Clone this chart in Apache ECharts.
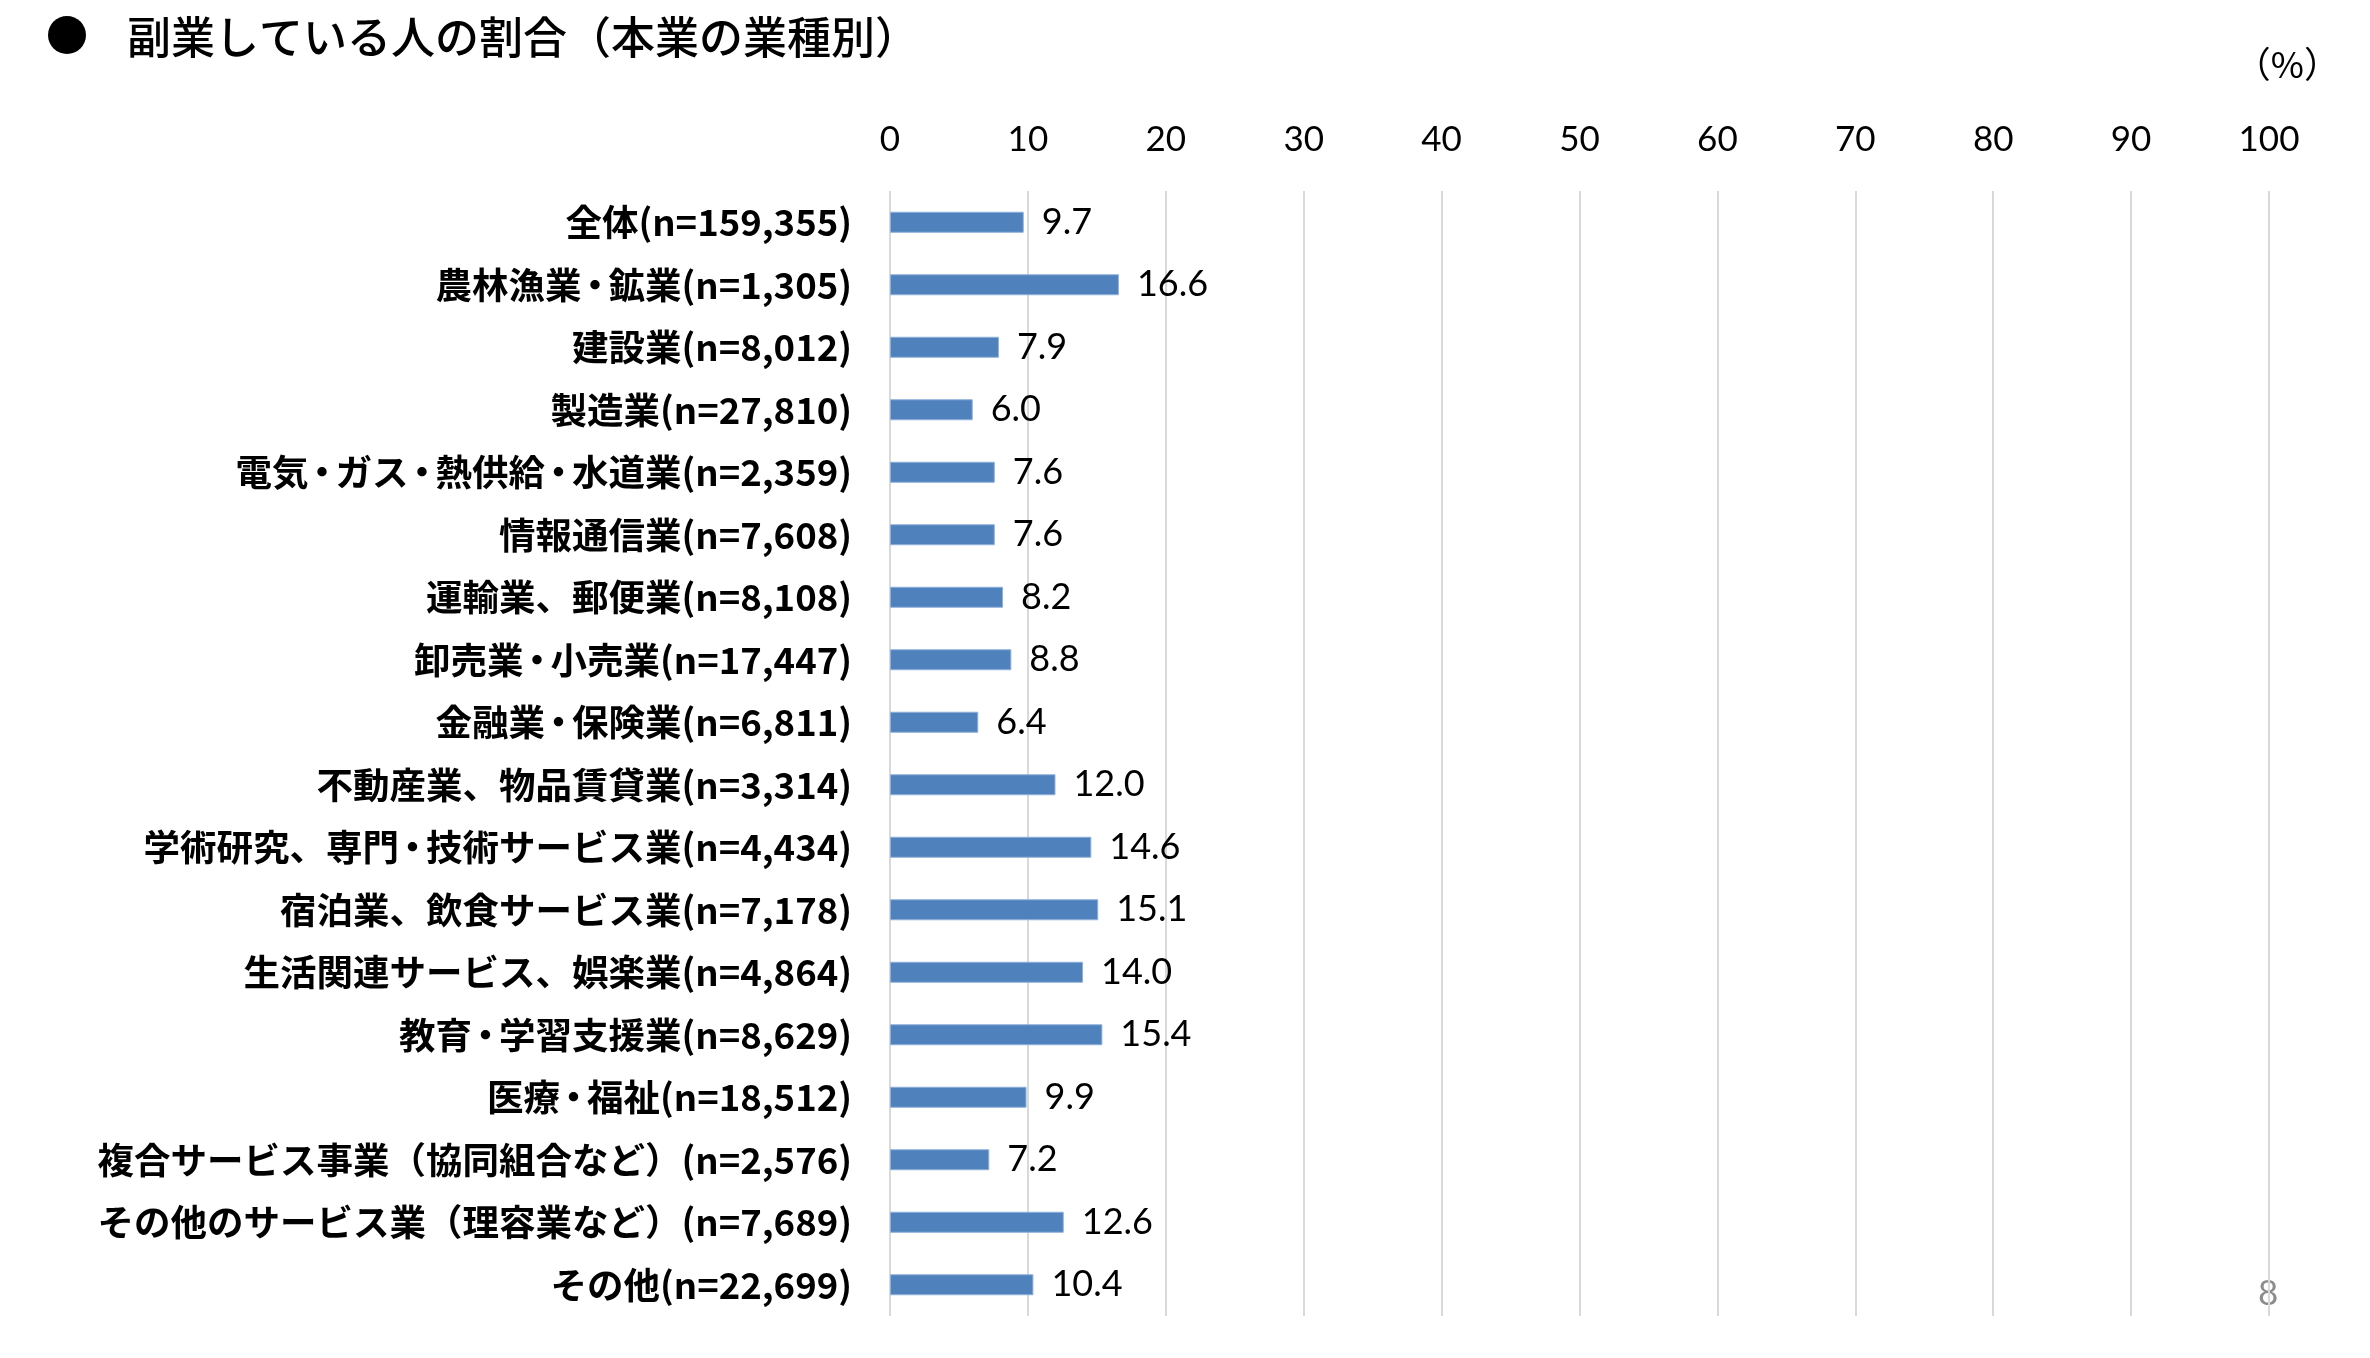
<!DOCTYPE html>
<html><head><meta charset="utf-8">
<script src="https://cdn.jsdelivr.net/npm/echarts@6/dist/echarts.min.js"></script>
<style>html,body{margin:0;padding:0;background:#fff}#c{width:2370px;height:1358px}</style>
</head><body><div id="c"></div>
<script>
const categories = [
  '全体(n=159,355)',
  '農林漁業・鉱業(n=1,305)',
  '建設業(n=8,012)',
  '製造業(n=27,810)',
  '電気・ガス・熱供給・水道業(n=2,359)',
  '情報通信業(n=7,608)',
  '運輸業、郵便業(n=8,108)',
  '卸売業・小売業(n=17,447)',
  '金融業・保険業(n=6,811)',
  '不動産業、物品賃貸業(n=3,314)',
  '学術研究、専門・技術サービス業(n=4,434)',
  '宿泊業、飲食サービス業(n=7,178)',
  '生活関連サービス、娯楽業(n=4,864)',
  '教育・学習支援業(n=8,629)',
  '医療・福祉(n=18,512)',
  '複合サービス事業（協同組合など）(n=2,576)',
  'その他のサービス業（理容業など）(n=7,689)',
  'その他(n=22,699)'
];
const values = [9.7, 16.6, 7.9, 6.0, 7.6, 7.6, 8.2, 8.8, 6.4, 12.0, 14.6, 15.1, 14.0, 15.4, 9.9, 7.2, 12.6, 10.4];
const titleText = '副業している人の割合（本業の業種別）';
const unitText = '（%）';
const pageText = '8';

const chart = echarts.init(document.getElementById('c'), null, {renderer: 'canvas'});
const jp = '"Noto Sans CJK JP", "Noto Sans", sans-serif';
const num = 'Lato, "Noto Sans", sans-serif';
const catFont = {fontFamily: jp, fontSize: 36.5, fontWeight: 'bold', color: '#000'};
chart.setOption({
  animation: false,
  backgroundColor: '#ffffff',
  title: {
    text: titleText, left: 122, top: 10,
    textStyle: {fontFamily: jp, fontSize: 44, fontWeight: 500, color: '#000'}
  },
  graphic: [
    {type: 'circle', shape: {cx: 67, cy: 35, r: 19}, style: {fill: '#000'}},
    {type: 'text', right: 30, top: 46, style: {text: unitText, font: '36px ' + jp, fill: '#000'}},
    {type: 'text', left: 2258, top: 1276, style: {text: pageText, font: '35px ' + num, fill: '#8c8c8c'}}
  ],
  grid: {left: 890, right: 101, top: 191, bottom: 42, containLabel: false},
  xAxis: {
    type: 'value', position: 'top', min: 0, max: 100, interval: 10,
    axisLine: {show: false}, axisTick: {show: false},
    axisLabel: {fontFamily: num, fontSize: 35, color: '#000', margin: 34},
    splitLine: {show: true, lineStyle: {color: '#d9d9d9', width: 2}}
  },
  yAxis: {
    type: 'category', data: categories, inverse: true,
    axisLine: {show: false}, axisTick: {show: false},
    axisLabel: Object.assign({}, catFont, {
      margin: 38,
      formatter: v => v.split('・').map(s => '{t|' + s + '}').join('{d|・}'),
      rich: {
        t: Object.assign({}, catFont),
        d: Object.assign({}, catFont, {width: 27, align: 'center'})
      }
    })
  },
  series: [{
    type: 'bar', data: values, barWidth: 21,
    itemStyle: {color: '#4F81BD', borderColor: '#8fb0d9', borderWidth: 1},
    label: {show: true, position: 'right', distance: 18, fontFamily: num, fontSize: 36, color: '#000',
      formatter: p => p.value.toFixed(1)}
  }]
});
</script></body></html>
